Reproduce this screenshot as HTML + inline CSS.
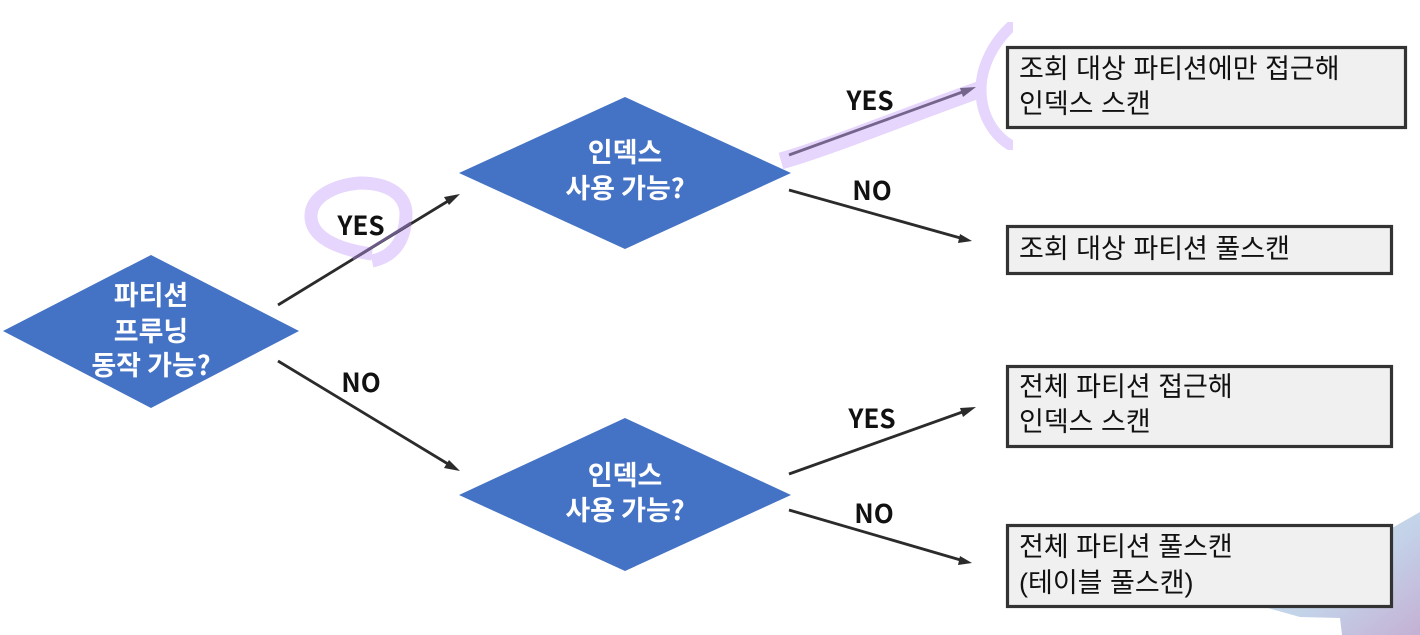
<!DOCTYPE html>
<html><head><meta charset="utf-8"><style>
html,body{margin:0;padding:0;background:#fff}
svg{display:block}
text{font-family:"Liberation Sans","Noto Sans CJK KR",sans-serif}
.d{font-size:27px;font-weight:700;fill:#fff;text-anchor:middle;font-family:"Noto Sans CJK KR","Liberation Sans",sans-serif}
.l{font-size:26px;font-weight:700;fill:#111;text-anchor:middle;font-family:"Noto Sans CJK KR","Liberation Sans",sans-serif}
.t{font-size:27px;fill:#111}
.b{fill:#f0f0f0;stroke:#333;stroke-width:3.200}
.a{stroke:#2b2b2b;stroke-width:2.800;fill:none}
.h{fill:none;stroke:#e6d5fc}
</style></head><body>
<svg width="1420" height="635" viewBox="0 0 1420 635" xmlns="http://www.w3.org/2000/svg">
<defs>
<linearGradient id="g" x1="0" y1="0" x2="1" y2="1"><stop offset="0" stop-color="#c2e4f0"/><stop offset=".55" stop-color="#c3d2e8"/><stop offset="1" stop-color="#c4b0d4"/></linearGradient>
<clipPath id="c"><rect x="960" y="22" width="53" height="128"/></clipPath>
</defs>
<polygon points="1420,512 1392,528 1392,606 1268,608 1300,617 1340,618 1342,635 1420,635" fill="url(#g)"/>
<g fill="#4472c4">
<polygon points="151,255 299,331 151,408 3,331"/>
<polygon points="625,97 791,173 625,249 459,173"/>
<polygon points="625,418 791,495 625,571 459,495"/>
</g>
<text class="d" x="151" y="305">파티션</text>
<text class="d" x="151" y="341">프루닝</text>
<text class="d" x="151" y="375">동작 가능?</text>
<text class="d" x="625" y="162">인덱스</text>
<text class="d" x="625" y="198">사용 가능?</text>
<text class="d" x="625" y="485">인덱스</text>
<text class="d" x="625" y="520">사용 가능?</text>
<path class="h" d="M372,261 C396,256 406,238 406,212 C404,192 385,183 360,183 C335,185 312,196 311,215 C310,236 335,249 372,254" stroke-width="13"/>
<path class="h" d="M781,161 C830,147 900,118 984,88" stroke-width="17"/>
<g clip-path="url(#c)"><path class="h" d="M1016,22 C992,42 981,68 981,90 C981,115 994,138 1016,148" stroke-width="11"/></g>
<g class="a">
<line x1="278" y1="305" x2="453" y2="198"/>
<line x1="278" y1="361" x2="453" y2="467"/>
<line x1="789" y1="155" x2="968" y2="90" stroke="#75658c"/>
<line x1="789" y1="190" x2="964" y2="239"/>
<line x1="789" y1="474" x2="968" y2="410"/>
<line x1="789" y1="510" x2="964" y2="561"/>
<line x1="353" y1="259" x2="411" y2="223" stroke="#6a5a85"/>
</g>
<g fill="#2b2b2b">
<polygon points="460,194 449,205 444,197"/>
<polygon points="460,471 444,468 449,460"/>
<polygon fill="#75658c" points="976,87 963,97 960,88"/>
<polygon points="972,241 958,243 960,234"/>
<polygon points="976,407 963,417 960,408"/>
<polygon points="972,563 958,565 960,556"/>
</g>
<text class="l" x="361" y="235">YES</text>
<text class="l" x="361" y="392">NO</text>
<text class="l" x="870" y="110">YES</text>
<text class="l" x="872" y="200">NO</text>
<text class="l" x="872" y="428">YES</text>
<text class="l" x="874" y="523">NO</text>
<rect class="b" x="1007.500" y="47.500" width="398" height="80"/>
<rect class="b" x="1007.500" y="226.500" width="384" height="47"/>
<rect class="b" x="1007.500" y="366.500" width="384" height="80"/>
<rect class="b" x="1007.500" y="525.500" width="384" height="81"/>
<text class="t" x="1019" y="78">조회 대상 파티션에만 접근해</text>
<text class="t" x="1019" y="113">인덱스 스캔</text>
<text class="t" x="1019" y="258">조회 대상 파티션 풀스캔</text>
<text class="t" x="1019" y="396">전체 파티션 접근해</text>
<text class="t" x="1019" y="431">인덱스 스캔</text>
<text class="t" x="1019" y="556">전체 파티션 풀스캔</text>
<text class="t" x="1019" y="592">(테이블 풀스캔)</text>
</svg>
</body></html>
